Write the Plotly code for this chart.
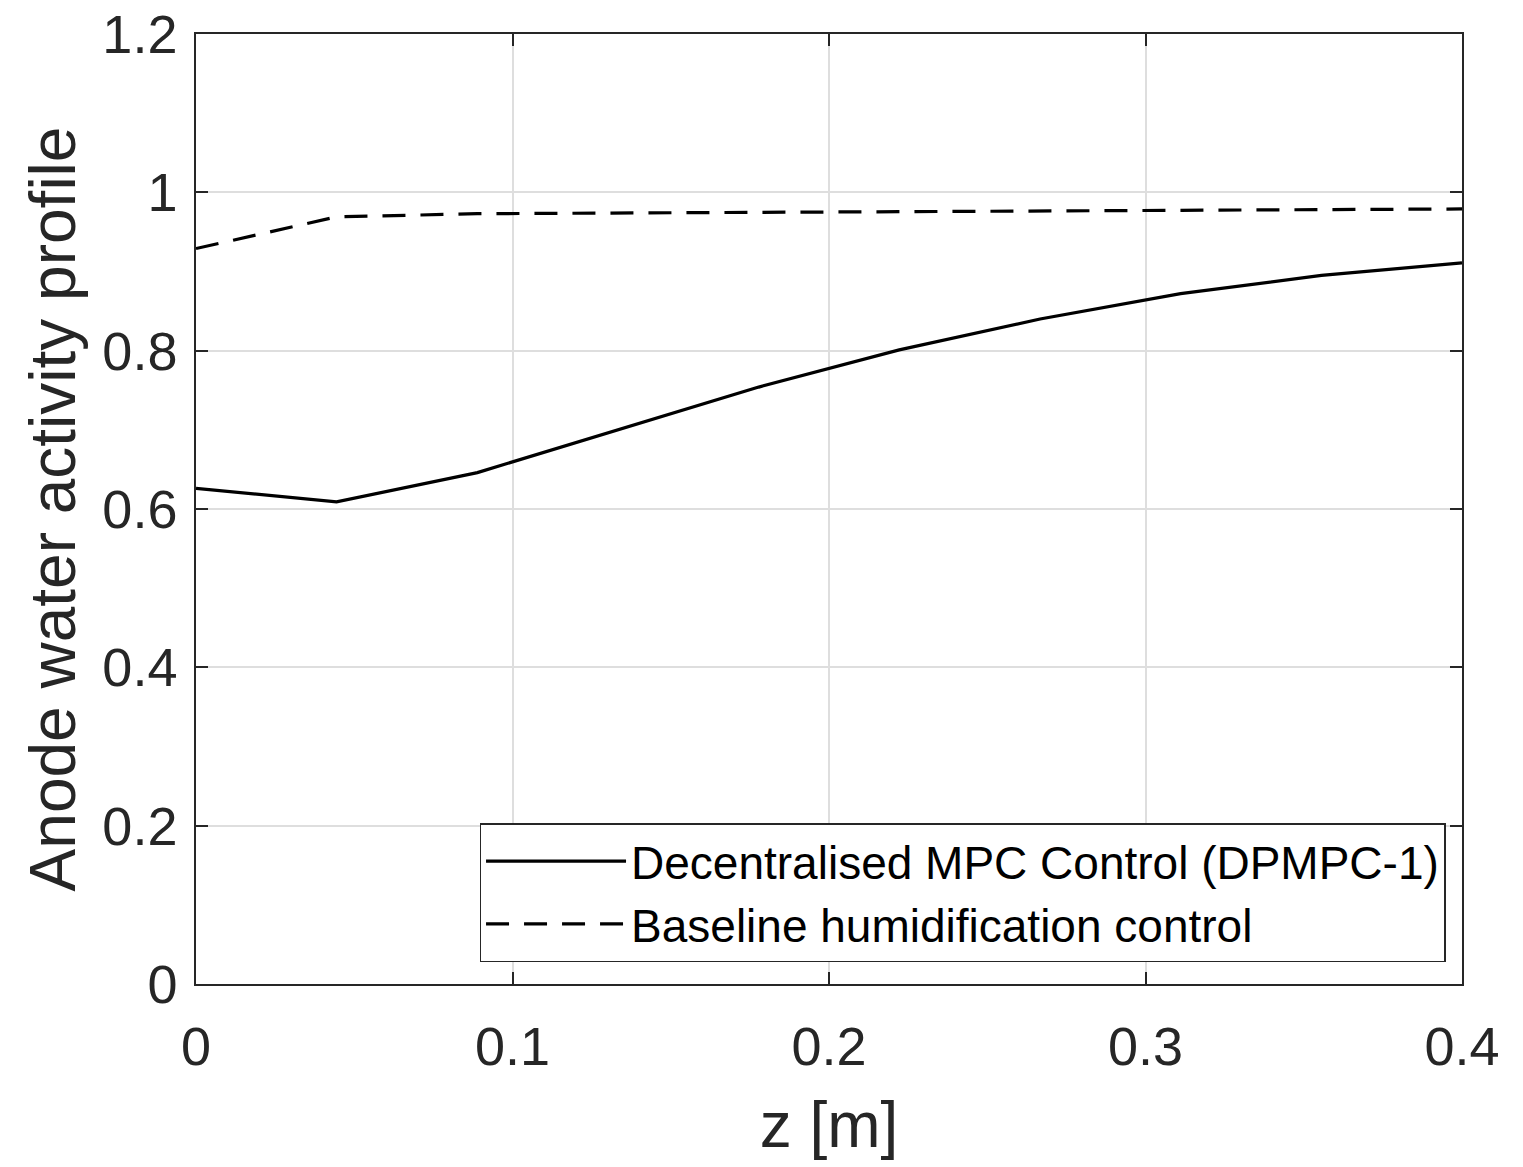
import plotly.graph_objects as go

z = [0.0, 0.0444, 0.0889, 0.1333, 0.1778, 0.2222, 0.2667, 0.3111, 0.3556, 0.4]
mpc = [0.626, 0.609, 0.646, 0.700, 0.754, 0.801, 0.840, 0.872, 0.895, 0.911]
baseline = [0.929, 0.969, 0.973, 0.974, 0.975, 0.975, 0.976, 0.977, 0.978, 0.979]

x_ticks = [0, 0.1, 0.2, 0.3, 0.4]
x_ticklabels = ["0", "0.1", "0.2", "0.3", "0.4"]
y_ticks = [0, 0.2, 0.4, 0.6, 0.8, 1.0, 1.2]
y_ticklabels = ["0", "0.2", "0.4", "0.6", "0.8", "1", "1.2"]

FONT = "Liberation Sans, Arial, Helvetica, sans-serif"
TXT = "#262626"

fig = go.Figure()
fig.add_trace(go.Scatter(x=z, y=mpc, mode="lines", name="Decentralised MPC Control (DPMPC-1)",
                         line=dict(color="black", width=3.2)))
fig.add_trace(go.Scatter(x=z, y=baseline, mode="lines", name="Baseline humidification control",
                         line=dict(color="black", width=3.2, dash="23px,15px")))

axis_common = dict(
    showline=True, linecolor=TXT, linewidth=1.5, mirror="ticks",
    ticks="inside", ticklen=12, tickwidth=1.5, tickcolor=TXT,
    showgrid=True, gridcolor="#dedede", gridwidth=2,
    zeroline=False, tickfont=dict(family=FONT, size=54, color=TXT),
    automargin=False,
)

fig.update_xaxes(range=[0, 0.4], tickvals=x_ticks, ticktext=x_ticklabels,
                 ticklabelstandoff=14,
                 title=dict(text="z [m]", font=dict(family=FONT, size=64, color=TXT), standoff=28),
                 **axis_common)
fig.update_yaxes(range=[0, 1.2], tickvals=y_ticks, ticktext=y_ticklabels,
                 ticklabelstandoff=6,
                 title=dict(text="Anode water activity profile", font=dict(family=FONT, size=64, color=TXT), standoff=6),
                 **axis_common)

fig.update_layout(
    width=1523, height=1167,
    margin=dict(l=196, r=61, t=34, b=183),
    plot_bgcolor="white", paper_bgcolor="white",
    legend=dict(x=0.987, y=0.023, xanchor="right", yanchor="bottom",
                bordercolor=TXT, borderwidth=1.5, bgcolor="white",
                font=dict(family=FONT, size=46, color="black"),
                tracegroupgap=0, itemwidth=140),
    showlegend=True,
)

fig.write_html("out.html")
